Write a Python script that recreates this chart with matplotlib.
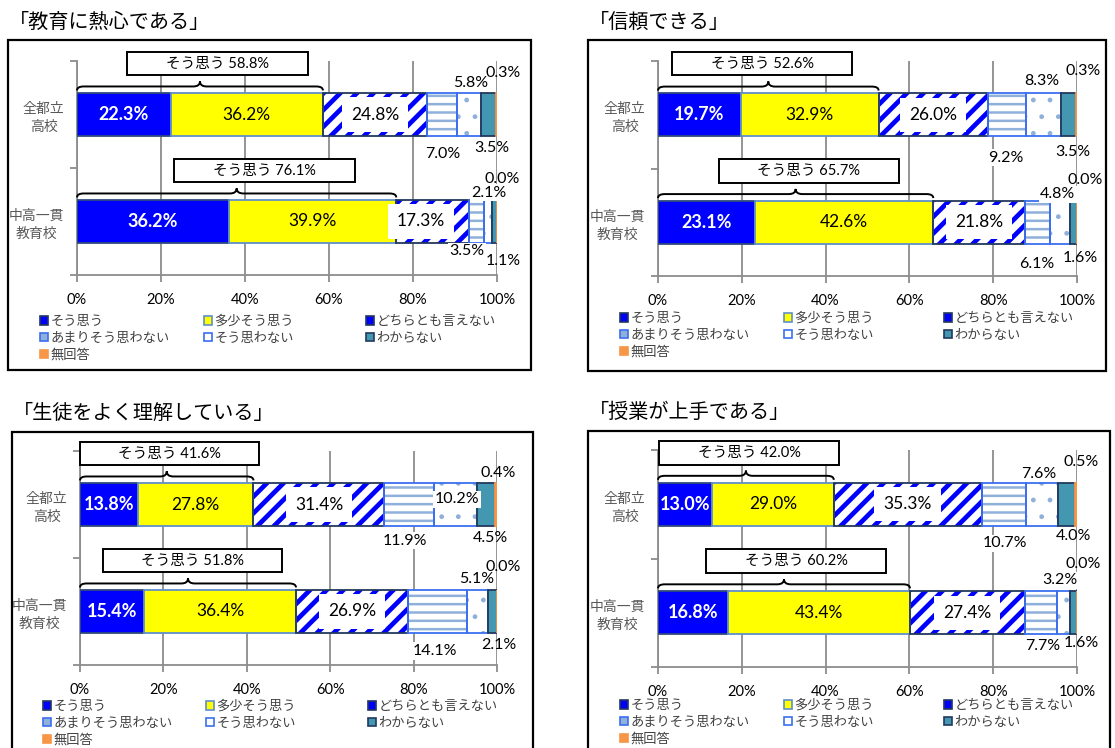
import matplotlib
matplotlib.use("Agg")
import numpy as np
import matplotlib.pyplot as plt
from matplotlib.patches import Rectangle, Patch, PathPatch
from matplotlib.path import Path

plt.rcParams["font.family"] = ["Lato", "Noto Sans CJK JP", "DejaVu Sans"]

W, H = 1115, 748

# ── data ────────────────────────────────────────────────────────────────
titles = ["「教育に熱心である」", "「信頼できる」", "「生徒をよく理解している」", "「授業が上手である」"]
schools = ["全都立\n高校", "中高一貫\n教育校"]
answers = ["そう思う", "多少そう思う", "どちらとも言えない", "あまりそう思わない",
           "そう思わない", "わからない", "無回答"]
xticks = [0, 20, 40, 60, 80, 100]
xtick_labels = ["0%", "20%", "40%", "60%", "80%", "100%"]

eager_zento = [22.3, 36.2, 24.8, 7.0, 5.8, 3.5, 0.3]
eager_ikkan = [36.2, 39.9, 17.3, 3.5, 2.1, 1.1, 0.0]
trust_zento = [19.7, 32.9, 26.0, 9.2, 8.3, 3.5, 0.3]
trust_ikkan = [23.1, 42.6, 21.8, 6.1, 4.8, 1.6, 0.0]
understand_zento = [13.8, 27.8, 31.4, 11.9, 10.2, 4.5, 0.4]
understand_ikkan = [15.4, 36.4, 26.9, 14.1, 5.1, 2.1, 0.0]
teaching_zento = [13.0, 29.0, 35.3, 10.7, 7.6, 4.0, 0.5]
teaching_ikkan = [16.8, 43.4, 27.4, 7.7, 3.2, 1.6, 0.0]

agree_totals = [[58.8, 76.1], [52.6, 65.7], [41.6, 51.8], [42.0, 60.2]]

panel_values = [
    [eager_zento, eager_ikkan],
    [trust_zento, trust_ikkan],
    [understand_zento, understand_ikkan],
    [teaching_zento, teaching_ikkan],
]

# ── layout (pixels) ─────────────────────────────────────────────────────
panels = [
    dict(ax=(77, 497, 61, 275), frame=(8, 40, 531, 370), title=(9, 22),
         leg_x=(40, 204, 366), leg_y=315),
    dict(ax=(658, 1077, 61, 276), frame=(588, 40, 1106, 371), title=(589, 22),
         leg_x=(620, 784, 944), leg_y=312),
    dict(ax=(80, 497, 451, 665), frame=(12, 432, 533, 752), title=(13, 413),
         leg_x=(43, 206, 368), leg_y=700),
    dict(ax=(658, 1077, 450, 667), frame=(588, 431, 1110, 752), title=(589, 413),
         leg_x=(620, 784, 944), leg_y=699),
]

# left edge (%) of the "そう思う" callout box for each bar
box_left = [[12.0, 23.2], [3.4, 14.5], [0.0, 5.5], [0.3, 11.5]]
BOX_W = 43.0

# per-segment label offset from segment centre: (dx in %, dy in category units)
label_shift = [
    [[(0, 0), (0, 0), (0, 0), (0.2, -0.37), (0.4, 0.29), (0.85, -0.31), (1.55, 0.39)],
     [(0, 0), (0, 0), (-2.75, 0), (-2.25, -0.28), (0.25, 0.27), (2.05, -0.37), (1.3, 0.40)]],
    [[(0, 0), (0, 0), (0, 0), (-0.2, -0.40), (-0.35, 0.31), (1.15, -0.35), (1.65, 0.41)],
     [(0, 0), (0, 0), (0, 0), (-0.15, -0.39), (-0.6, 0.26), (1.5, -0.33), (1.9, 0.39)]],
    [[(0, 0), (0, 0), (0, 0), (-0.95, -0.34), (0.5, 0.05), (1.05, -0.31), (0.6, 0.29)],
     [(0, 0), (0, 0), (0, 0), (-0.55, -0.37), (-0.2, 0.30), (1.45, -0.31), (1.6, 0.42)]],
    [[(0, 0), (0, 0), (0, 0), (0.15, -0.36), (-0.8, 0.28), (1.6, -0.29), (1.35, 0.39)],
     [(0, 0), (0, 0), (0, 0), (0.35, -0.31), (-1.0, 0.30), (1.9, -0.28), (1.5, 0.45)]],
]

seg_styles = [
    dict(face="#0000FF", hatch=None, hcolor=None, edge="#2F4B7C", hlw=None),
    dict(face="#FFFF00", hatch=None, hcolor=None, edge="#5F8FCB", hlw=None),
    dict(face="white", hatch="//", hcolor="#0000FF", edge="#22385E", hlw=3.4),
    dict(face="white", hatch="--", hcolor="#8FB0DA", edge="#3B6FF0", hlw=1.8),
    dict(face="white", hatch=".", hcolor="#8FB0DA", edge="#3B6FF0", hlw=1.0),
    dict(face="#4397B0", hatch=None, hcolor=None, edge="#22385E", hlw=None),
    dict(face="#F79646", hatch=None, hcolor=None, edge="#F79646", hlw=None),
]
legend_faces = ["#0000FF", "#FFFF00", "#0000FF", "#8FB0DA", "white", "#4397B0", "#F79646"]
legend_edges = ["#22385E", "#5F8FCB", "#22385E", "#3B6FF0", "#3B6FF0", "#22385E", "#F79646"]

GRID = "#8C8C8C"
CJK = "Noto Sans CJK JP"


def brace(ax, x0, x1, yc):
    yb, yl, yp = yc + 0.225, yc + 0.262, yc + 0.31
    r = 1.6
    xm = (x0 + x1) / 2
    verts = [(x0, yb), (x0, yl), (x0 + r, yl), (xm - r, yl), (xm, yl), (xm, yp),
             (xm, yl), (xm + r, yl), (x1 - r, yl), (x1, yl), (x1, yb)]
    codes = [Path.MOVETO, Path.CURVE3, Path.CURVE3, Path.LINETO, Path.CURVE3, Path.CURVE3,
             Path.CURVE3, Path.CURVE3, Path.LINETO, Path.CURVE3, Path.CURVE3]
    ax.add_patch(PathPatch(Path(verts, codes), fill=False, ec="black", lw=1.4,
                           clip_on=False, zorder=6))


fig = plt.figure(figsize=(W / 100, H / 100), dpi=100)

for p, spec in enumerate(panels):
    x0, x1, yt, yb = spec["ax"]
    ax = fig.add_axes([x0 / W, 1 - yb / H, (x1 - x0) / W, (yb - yt) / H])

    fx0, fy0, fx1, fy1 = spec["frame"]
    fig.patches.append(Rectangle((fx0 / W, 1 - fy1 / H), (fx1 - fx0) / W, (fy1 - fy0) / H,
                                 transform=fig.transFigure, fill=False, ec="black", lw=1.6,
                                 zorder=0))
    fig.text(spec["title"][0] / W, 1 - spec["title"][1] / H, titles[p], family=CJK,
             fontsize=14.5, va="center", ha="left")

    for b, vals in enumerate(panel_values[p]):
        yc = 1 - b
        v = np.array(vals, dtype=float)
        v = v / v.sum() * 100
        lefts = np.concatenate([[0], np.cumsum(v)[:-1]])
        for s, st in enumerate(seg_styles):
            if st["hatch"]:
                with plt.rc_context({"hatch.linewidth": st["hlw"]}):
                    bars = ax.barh(yc, v[s], left=lefts[s], height=0.4, color=st["face"],
                                   hatch=st["hatch"], edgecolor=st["hcolor"], linewidth=0,
                                   zorder=2)
                for patch in bars:
                    if hasattr(patch, "set_hatch_linewidth"):
                        patch.set_hatch_linewidth(st["hlw"])
                ax.barh(yc, v[s], left=lefts[s], height=0.4, fill=False,
                        edgecolor=st["edge"], linewidth=1.3, zorder=3)
            else:
                ax.barh(yc, v[s], left=lefts[s], height=0.4, color=st["face"],
                        edgecolor=st["edge"], linewidth=1.3, zorder=3)

            dx, dy = label_shift[p][b][s]
            tx = lefts[s] + v[s] / 2 + dx
            ty = yc + dy
            txt = f"{vals[s]:.1f}%"
            if s == 0:
                ax.text(tx, ty, txt, ha="center", va="center", color="white",
                        fontsize=13, fontweight="bold", zorder=7)
            elif s == 1:
                ax.text(tx, ty, txt, ha="center", va="center", color="black",
                        fontsize=12.5, zorder=7)
            elif s == 2:
                ax.text(tx, ty, txt, ha="center", va="center", color="black",
                        fontsize=12.5, zorder=7,
                        bbox=dict(boxstyle="square,pad=0.52", fc="white", ec="none"))
            elif s in (3, 4):
                ax.text(tx, ty, txt, ha="center", va="center", color="black",
                        fontsize=11.5, zorder=7, clip_on=False,
                        bbox=dict(boxstyle="square,pad=0.1", fc="white", ec="none"))
            else:
                ax.text(tx, ty, txt, ha="center", va="center", color="black",
                        fontsize=11.5, zorder=8, clip_on=False)

        # "そう思う" callout
        agree_end = lefts[2]
        brace(ax, 0, agree_end, yc)
        bl = box_left[p][b]
        ax.add_patch(Rectangle((bl, yc + 0.366), BOX_W, 0.218, fc="white", ec="black",
                               lw=1.4, clip_on=False, zorder=6))
        ax.text(bl + BOX_W / 2, yc + 0.475, f"そう思う {agree_totals[p][b]:.1f}%",
                ha="center", va="center", fontsize=10.5, zorder=7)

    ax.set_xlim(0, 100)
    ax.set_ylim(-0.5, 1.5)
    ax.set_xticks(xticks, xtick_labels)
    ax.set_yticks([-0.5, 0.5, 1.5], ["", "", ""])
    ax.set_yticks([1, 0], schools, minor=True)
    for t in ax.get_yticklabels(minor=True):
        t.set_multialignment("center")
        t.set_family(CJK)
        t.set_color("#595959")
        t.set_fontsize(10)
        t.set_linespacing(1.35)
    ax.tick_params(axis="y", which="minor", length=0, pad=9)
    ax.tick_params(axis="y", which="major", length=5, width=1.3, color=GRID)
    ax.tick_params(axis="x", length=5, width=1.3, color=GRID, pad=8, labelsize=10.5)
    ax.grid(axis="x", color=GRID, lw=1.3, zorder=0)
    ax.set_axisbelow(True)
    for side in ("top", "right"):
        ax.spines[side].set_visible(False)
    for side in ("left", "bottom"):
        ax.spines[side].set_color(GRID)
        ax.spines[side].set_linewidth(1.3)
    ax.patch.set_alpha(0)

    # legend in three fixed columns
    cols = [[0, 3, 6], [1, 4], [2, 5]]
    for c, idx in enumerate(cols):
        handles = [Patch(facecolor=legend_faces[i], edgecolor=legend_edges[i], lw=1.2)
                   for i in idx]
        fig.legend(handles, [answers[i] for i in idx], loc="upper left",
                   bbox_to_anchor=(spec["leg_x"][c] / W, 1 - spec["leg_y"] / H),
                   frameon=False, borderpad=0, borderaxespad=0, handlelength=0.6,
                   handleheight=0.6, handletextpad=0.2, labelspacing=0.3,
                   prop=dict(family=CJK, size=9.5), labelcolor="#404040")

fig.savefig("out.png", dpi=100)
